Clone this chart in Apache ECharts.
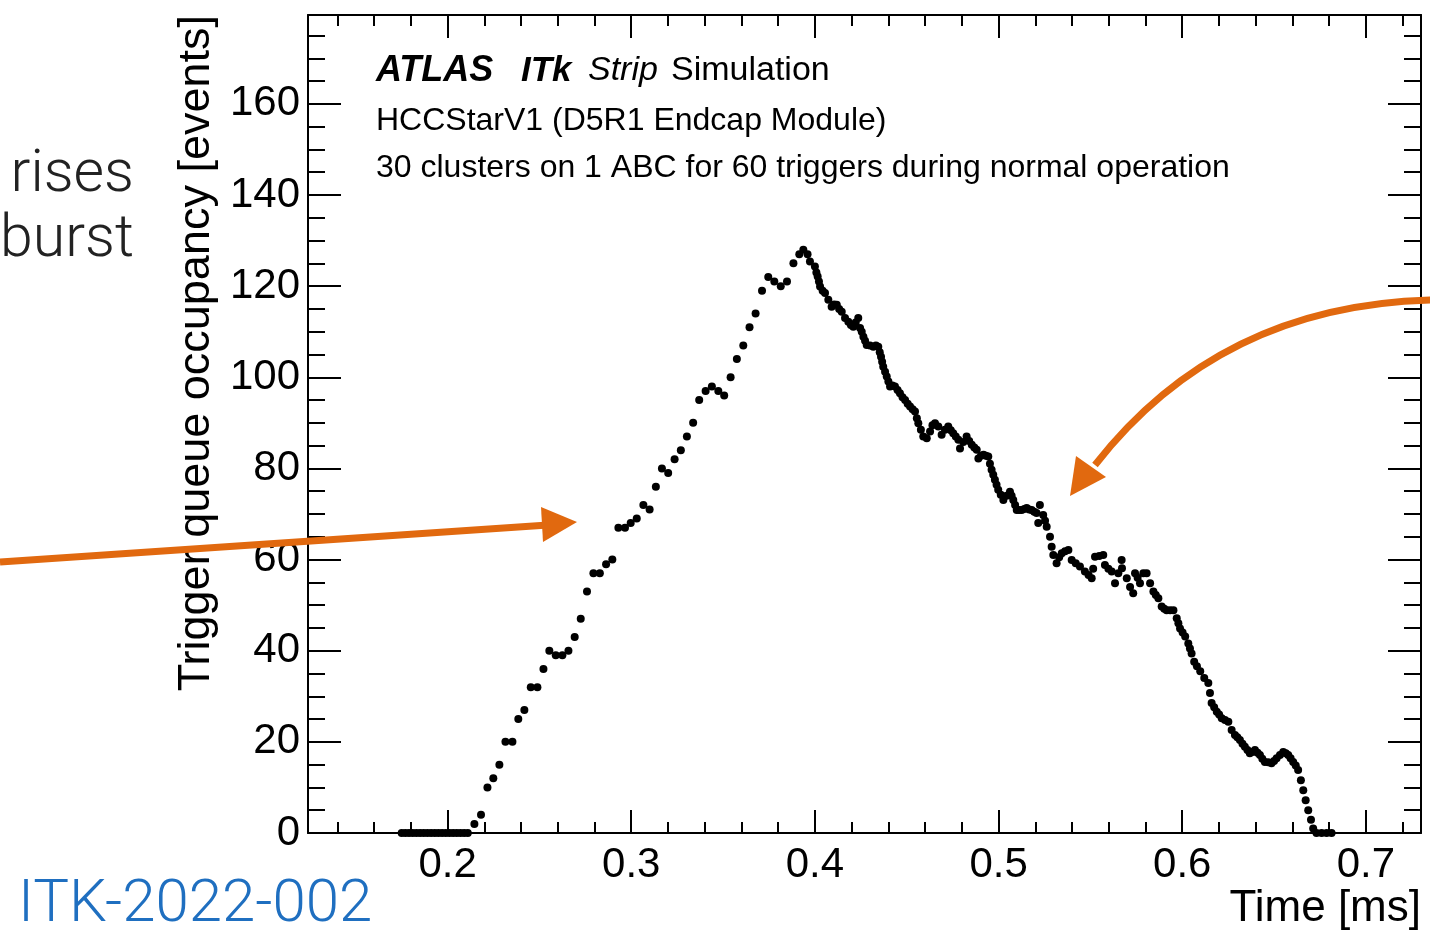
<!DOCTYPE html>
<html><head><meta charset="utf-8">
<script src="https://cdn.jsdelivr.net/npm/echarts@6/dist/echarts.min.js"></script>
<style>html,body{margin:0;padding:0;background:#fff}#c{width:1430px;height:931px}</style>
</head><body><div id="c"></div>
<script>
// ---- data: [time (ms), trigger queue occupancy (events)] ----
const idlePoints = [
  [0.175,0],[0.177,0],[0.179,0],[0.181,0],[0.183,0],[0.185,0],[0.187,0],[0.189,0],[0.191,0],[0.193,0],
  [0.195,0],[0.197,0],[0.199,0],[0.201,0],[0.203,0],[0.205,0],[0.207,0],[0.209,0],[0.211,0]
];
const risePoints = [
  [0.2146,2],[0.2182,4],[0.2217,10],[0.2249,12],[0.2282,15],[0.2315,20],[0.2353,20],[0.2385,25],
  [0.2418,27],[0.2453,32],[0.2489,32],[0.2522,36],[0.2554,40],[0.2589,39],[0.2625,39],[0.2658,40],
  [0.2692,43],[0.2725,47],[0.2759,53],[0.2794,57],[0.2829,57],[0.2863,59],[0.2897,60],[0.2930,67],
  [0.2966,67],[0.2997,68],[0.3030,69],[0.3066,72],[0.3100,71],[0.3134,76],[0.3167,80],[0.3201,79],
  [0.3236,82],[0.3270,84],[0.3303,87],[0.3337,90],[0.3370,95],[0.3405,97],[0.3439,98],[0.3474,97],
  [0.3506,96],[0.3541,100],[0.3575,104],[0.3610,107],[0.3644,111],[0.3677,114],[0.3712,119],[0.3746,122],
  [0.3779,121],[0.3814,120],[0.3848,121],[0.3883,125],[0.3915,127],[0.3937,128]
];
const fallPoints = [
  [0.3960,127],[0.3973,125.4],[0.4000,124.3],[0.4008,123],[0.4015,122.1],[0.4022,121],[0.4028,119.9],[0.4042,119],
  [0.4055,118.5],[0.4073,117],[0.4091,115.5],[0.4105,116],[0.4119,115.9],[0.4132,115],[0.4146,114.4],[0.4164,113],
  [0.4182,112.2],[0.4196,111.5],[0.4209,111.1],[0.4222,112],[0.4236,113],[0.4246,110.8],[0.4255,110],[0.4264,108.9],
  [0.4273,108],[0.4282,107.1],[0.4300,107],[0.4318,106.7],[0.4332,107],[0.4345,106.7],[0.4353,105.5],[0.4360,104.5],
  [0.4366,103.4],[0.4372,102.3],[0.4382,101.2],[0.4391,100.2],[0.4400,99.1],[0.4409,98],[0.4422,98.2],[0.4436,98],
  [0.4450,97.2],[0.4463,96.5],[0.4477,95.6],[0.4491,95],[0.4505,94.2],[0.4518,93.6],[0.4532,93],[0.4545,92.5],
  [0.4555,91],[0.4563,89.9],[0.4577,88.5],[0.4590,87],[0.4609,86.6],[0.4627,88.1],[0.4640,89.5],[0.4654,89.9],
  [0.4672,89.2],[0.4690,87.4],[0.4708,88.5],[0.4726,89.2],[0.4740,88.4],[0.4753,87.7],[0.4767,87],[0.4781,86.3],
  [0.4790,84.4],[0.4808,85.8],[0.4826,87],[0.4840,86],[0.4854,85.2],[0.4868,84.6],[0.4881,84.1],[0.4890,82.2],
  [0.4904,82.8],[0.4918,83],[0.4931,82.8],[0.4944,82.6],[0.4953,81],[0.4962,79.7],[0.4971,78.6],[0.4980,77.5],
  [0.4989,76.4],[0.4998,75.3],[0.5012,74.2],[0.5026,73.1],[0.5044,74],[0.5062,74.9],[0.5071,74],[0.5080,73.1],
  [0.5090,72],[0.5099,70.9],[0.5112,70.9],[0.5126,70.9],[0.5140,71.1],[0.5153,71.3],[0.5167,71],[0.5180,70.9],
  [0.5194,70.5],[0.5207,70.2],[0.5216,68],[0.5225,72],[0.5243,69.8],[0.5253,68.5],[0.5262,67.2],[0.5280,65],
  [0.5289,62.8],[0.5298,61],[0.5316,59.2],[0.5330,60.5],[0.5344,61.4],[0.5362,61.8],[0.5380,62.1],[0.5398,59.9],
  [0.5420,59.2],[0.5443,58.5],[0.5470,57.4],[0.5490,56.6],[0.5507,55.9],[0.5515,58],[0.5525,60.6],[0.5548,60.8],
  [0.5570,61],[0.5579,58.8],[0.5598,58],[0.5616,57.4],[0.5634,54.8],[0.5652,57],[0.5670,59.9],[0.5672,58.1],
  [0.5698,55.9],[0.5716,54],[0.5733,52.6],[0.5743,57],[0.5757,56],[0.5770,54.8],[0.5788,57],[0.5806,57],
  [0.5825,54.8],[0.5843,53],[0.5856,52.2],[0.5870,51.5],[0.5888,49.7],[0.5902,49.2],[0.5915,48.9],[0.5934,48.9],
  [0.5952,48.9],[0.5970,47.1],[0.5979,46],[0.5988,44.9],[0.6002,44],[0.6016,43.1],[0.6033,41.6],[0.6042,40.5],
  [0.6051,39.4],[0.6065,37.6],[0.6080,36.6],[0.6098,35.5],[0.6120,34],[0.6142,32.9],[0.6151,30.7],[0.6160,28.5],
  [0.6174,27.6],[0.6188,26.6],[0.6201,26],[0.6215,25.2],[0.6233,24.8],[0.6251,24.4],[0.6269,22.6],[0.6287,21.5],
  [0.6300,21],[0.6314,20.4],[0.6328,19.6],[0.6341,18.9],[0.6355,18.2],[0.6368,17.5],[0.6382,17.8],[0.6396,18.2],
  [0.6410,17.6],[0.6423,17.1],[0.6436,16.3],[0.6450,15.6],[0.6468,15.5],[0.6486,15.3],[0.6500,15.8],[0.6514,16.4],
  [0.6532,17.1],[0.6550,17.8],[0.6564,17.5],[0.6577,17.1],[0.6590,16.4],[0.6604,15.6],[0.6618,14.8],[0.6631,13.8],
  [0.6646,11.6],[0.6659,9.4],[0.6672,7.2],[0.6686,5],[0.6701,2.9],[0.6713,1],[0.6731,0],[0.6759,0],
  [0.6786,0],[0.6813,0]
];
const xMajorTicks = [0.2,0.3,0.4,0.5,0.6,0.7];
const xMinorTicks = [0.14,0.16,0.18,0.22,0.24,0.26,0.28,0.32,0.34,0.36,0.38,0.42,0.44,0.46,0.48,0.52,0.54,0.56,0.58,0.62,0.64,0.66,0.68,0.72];
const yMajorTicks = [0,20,40,60,80,100,120,140,160];
const yMinorTicks = [5,10,15,25,30,35,45,50,55,65,70,75,85,90,95,105,110,115,125,130,135,145,150,155,165,170,175];
const xRange = [0.124, 0.73];
const yRange = [0, 179.5];

const FONT = '"Liberation Sans", Arial, Helvetica, sans-serif';
const LIGHT = 'Roboto, "Open Sans", sans-serif';
const ORANGE = '#e1690f';

function xAx(pos, ticks, len, showLine, labels) {
  return {
    type: 'value', min: xRange[0], max: xRange[1], position: pos,
    axisLine: { show: showLine, onZero: false, lineStyle: { color: '#000', width: 2 } },
    axisTick: { show: true, inside: true, length: len, customValues: ticks, lineStyle: { color: '#000', width: 2 } },
    axisLabel: labels ? { show: true, customValues: ticks, margin: 11, color: '#000', fontSize: 42, fontFamily: FONT,
      formatter: v => v.toFixed(1) } : { show: false },
    splitLine: { show: false }
  };
}
function yAx(pos, ticks, len, showLine, labels) {
  return {
    type: 'value', min: yRange[0], max: yRange[1], position: pos,
    axisLine: { show: showLine, onZero: false, lineStyle: { color: '#000', width: 2 } },
    axisTick: { show: true, inside: true, length: len, customValues: ticks, lineStyle: { color: '#000', width: 2 } },
    axisLabel: labels ? { show: true, customValues: ticks, margin: 8, color: '#000', fontSize: 42, fontFamily: FONT,
      formatter: v => String(v) } : { show: false },
    splitLine: { show: false }
  };
}

const chart = echarts.init(document.getElementById('c'), null, { renderer: 'canvas' });
chart.setOption({
  animation: false,
  backgroundColor: '#fff',
  grid: { left: 308, top: 15, right: 9, bottom: 98, containLabel: false },
  xAxis: [
    xAx('bottom', xMajorTicks, 23, true, true),
    xAx('bottom', xMinorTicks, 11, false, false),
    xAx('top', xMajorTicks, 23, true, false),
    xAx('top', xMinorTicks, 11, false, false)
  ],
  yAxis: [
    yAx('left', yMajorTicks, 33, true, true),
    yAx('left', yMinorTicks, 17, false, false),
    yAx('right', yMajorTicks, 33, true, false),
    yAx('right', yMinorTicks, 17, false, false)
  ],
  series: [{
    type: 'scatter', xAxisIndex: 0, yAxisIndex: 0,
    symbol: 'circle', symbolSize: 8,
    itemStyle: { color: '#000', opacity: 1 },
    emphasis: { disabled: true },
    data: idlePoints.concat(risePoints, fallPoints)
  }],
  graphic: [
    { type: 'text', x: 376, y: 71, z: 100, style: { text: 'ATLAS', font: 'italic bold 36px ' + FONT, fill: '#000', textVerticalAlign: 'middle' } },
    { type: 'text', x: 521, y: 71, z: 100, style: { text: 'ITk', font: 'italic bold 35px ' + FONT, fill: '#000', textVerticalAlign: 'middle' } },
    { type: 'text', x: 588, y: 71, z: 100, style: { text: 'Strip', font: 'italic 34px ' + FONT, fill: '#000', textVerticalAlign: 'middle' } },
    { type: 'text', x: 671, y: 71, z: 100, style: { text: 'Simulation', font: '34px ' + FONT, fill: '#000', textVerticalAlign: 'middle' } },
    { type: 'text', x: 376, y: 121, z: 100, style: { text: 'HCCStarV1 (D5R1 Endcap Module)', font: '32px ' + FONT, fill: '#000', textVerticalAlign: 'middle' } },
    { type: 'text', x: 376, y: 168, z: 100, style: { text: '30 clusters on 1 ABC for 60 triggers during normal operation', font: '32px ' + FONT, fill: '#000', textVerticalAlign: 'middle' } },
    { type: 'text', x: 197, y: 15, rotation: Math.PI / 2, z: 100, style: { text: 'Trigger queue occupancy [events]', font: '45px ' + FONT, fill: '#000', textAlign: 'right', textVerticalAlign: 'middle' } },
    { type: 'text', x: 1421, y: 909, z: 100, style: { text: 'Time [ms]', font: '44px ' + FONT, fill: '#000', textAlign: 'right', textVerticalAlign: 'middle' } },
    { type: 'text', x: 134, y: 176, z: 100, style: { text: 'rises', font: '300 59px ' + LIGHT, fill: '#222', textAlign: 'right', textVerticalAlign: 'middle' } },
    { type: 'text', x: 134, y: 241, z: 100, style: { text: 'burst', font: '300 59px ' + LIGHT, fill: '#222', textAlign: 'right', textVerticalAlign: 'middle' } },
    { type: 'text', x: 18, y: 906, z: 100, style: { text: 'ITK-2022-002', font: '300 60px ' + LIGHT, fill: '#1f6fc0', textAlign: 'left', textVerticalAlign: 'middle' } },
    { type: 'line', z: 110, shape: { x1: 0, y1: 562, x2: 548, y2: 525 }, style: { stroke: ORANGE, lineWidth: 7 } },
    { type: 'polygon', z: 110, shape: { points: [[577, 522], [541, 507], [543, 542]] }, style: { fill: ORANGE } },
    { type: 'bezierCurve', z: 110, shape: { x1: 1432, y1: 300, cpx1: 1220, cpy1: 305, x2: 1095, y2: 465 }, style: { stroke: ORANGE, lineWidth: 7, fill: null } },
    { type: 'polygon', z: 110, shape: { points: [[1070, 496], [1076, 456], [1106, 477]] }, style: { fill: ORANGE } }
  ]
});
</script>
</body></html>
